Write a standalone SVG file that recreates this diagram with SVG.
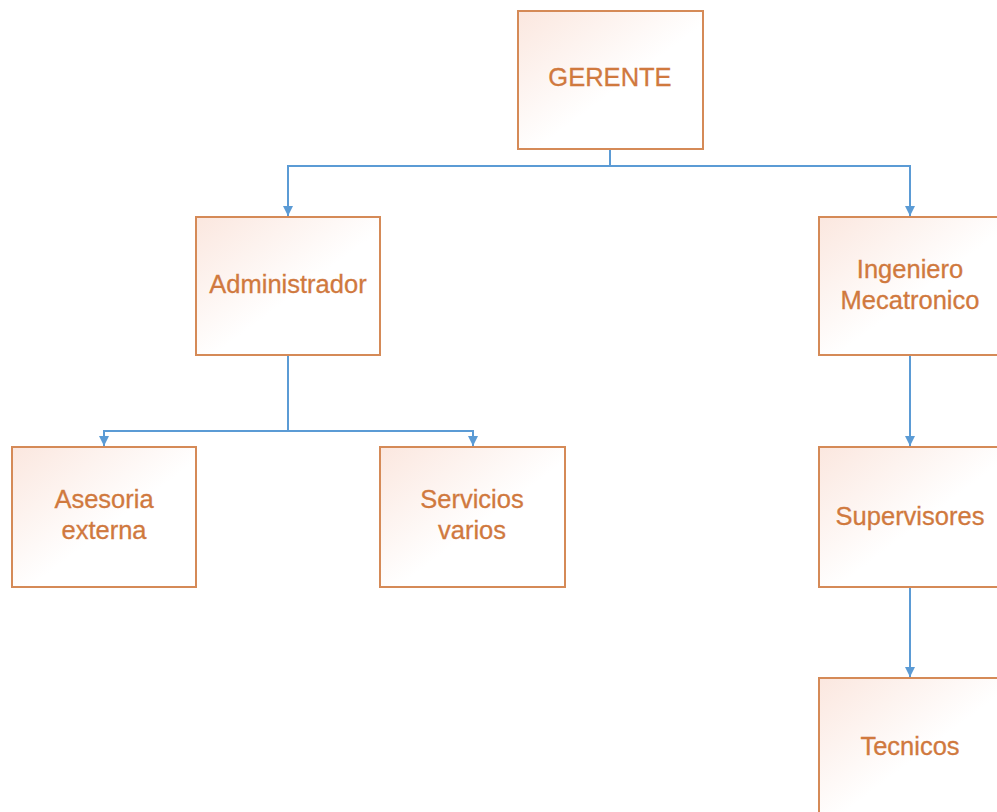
<svg xmlns="http://www.w3.org/2000/svg" width="997" height="812" viewBox="0 0 997 812">
<style>
.box{fill:url(#g);stroke:#d58a57;stroke-width:2}
.t{font-family:"Liberation Sans",Arial,sans-serif;font-size:25.5px;fill:#d0793e;stroke:#d0793e;stroke-width:0.3;text-anchor:middle}
.c{fill:none;stroke:#5b9bd5;stroke-width:2}
</style>
<defs>
<linearGradient id="g" x1="0" y1="0" x2="1" y2="1">
<stop offset="0" stop-color="#fbe7df"/>
<stop offset="0.55" stop-color="#ffffff"/>
<stop offset="1" stop-color="#ffffff"/>
</linearGradient>
<marker id="ad" viewBox="0 0 10 10" markerWidth="10" markerHeight="10" refX="10" refY="5" orient="auto" markerUnits="userSpaceOnUse">
<path d="M0,0 L10,5 L0,10 Z" fill="#5b9bd5"/>
</marker>
</defs>
<rect width="997" height="812" fill="#ffffff"/>
<g id="connectors">
<path class="c" d="M610,149 V166"/>
<path class="c" d="M610,166 H288 V216" marker-end="url(#ad)"/>
<path class="c" d="M610,166 H910 V216" marker-end="url(#ad)"/>
<path class="c" d="M288,355 V431"/>
<path class="c" d="M288,431 H104 V446" marker-end="url(#ad)"/>
<path class="c" d="M288,431 H473 V446" marker-end="url(#ad)"/>
<path class="c" d="M910,355 V446" marker-end="url(#ad)"/>
<path class="c" d="M910,587 V677" marker-end="url(#ad)"/>
</g>
<g id="gerente">
<rect class="box" x="518" y="11" width="185" height="138"/>
<text class="t" x="610" y="86">GERENTE</text>
</g>
<g id="administrador">
<rect class="box" x="196" y="217" width="184" height="138"/>
<text class="t" x="288" y="293">Administrador</text>
</g>
<g id="ingeniero">
<rect class="box" x="819" y="217" width="184" height="138"/>
<text class="t" x="910" y="278">Ingeniero</text>
<text class="t" x="910" y="309">Mecatronico</text>
</g>
<g id="asesoria">
<rect class="box" x="12" y="447" width="184" height="140"/>
<text class="t" x="104" y="508">Asesoria</text>
<text class="t" x="104" y="539">externa</text>
</g>
<g id="servicios">
<rect class="box" x="380" y="447" width="185" height="140"/>
<text class="t" x="472" y="508">Servicios</text>
<text class="t" x="472" y="539">varios</text>
</g>
<g id="supervisores">
<rect class="box" x="819" y="447" width="184" height="140"/>
<text class="t" x="910" y="525">Supervisores</text>
</g>
<g id="tecnicos">
<rect class="box" x="819" y="678" width="184" height="140"/>
<text class="t" x="910" y="755">Tecnicos</text>
</g>
</svg>
